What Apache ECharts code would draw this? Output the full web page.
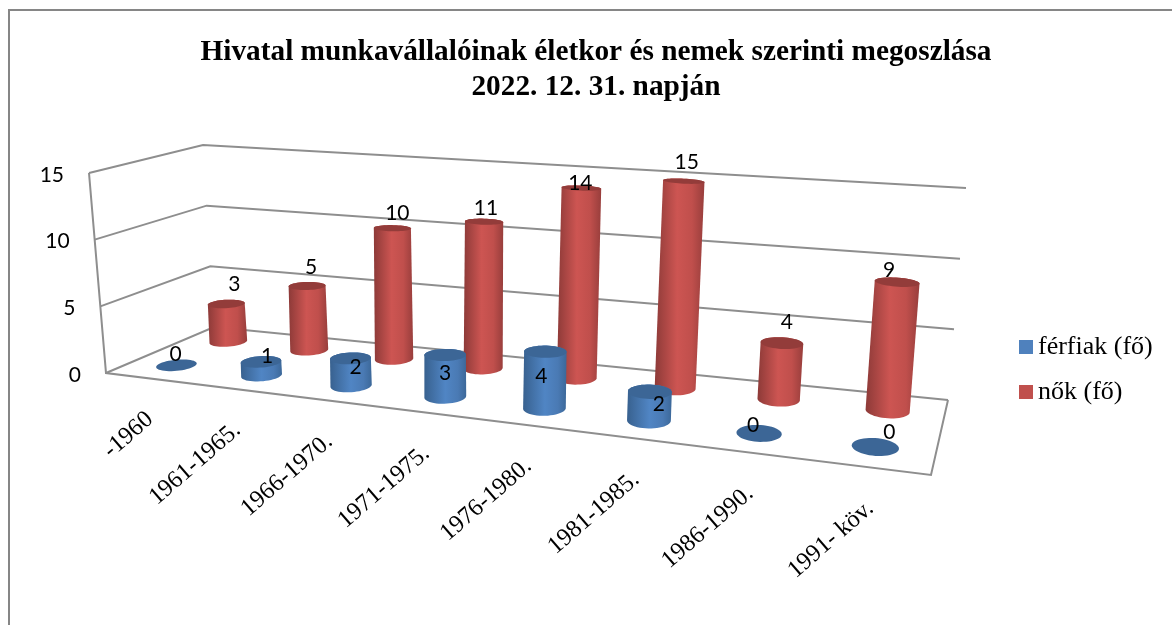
<!DOCTYPE html>
<html>
<head>
<meta charset="utf-8">
<title>Hivatal munkavállalói</title>
<style>
html, body { margin: 0; padding: 0; background: #fff; }
#chart { width: 1172px; height: 625px; }
</style>
<script src="https://cdn.jsdelivr.net/npm/echarts@6/dist/echarts.min.js"></script>
</head>
<body>
<div id="chart"></div>
<script>
// adatok
const categories = ['-1960', '1961-1965.', '1966-1970.', '1971-1975.', '1976-1980.', '1981-1985.', '1986-1990.', '1991- köv.']
const ferfiak = [0, 1, 2, 3, 4, 2, 0, 0]
const nok = [3, 5, 10, 11, 14, 15, 4, 9]
const valueTicks = [0, 5, 10, 15]

// felirat eltolasok az oszlop tetejehez kepest (px)
const ferfiakLabelShift = [[-1, -11], [6, -5], [5, 9], [0, 18], [-4, 25], [9, 13], [-6, -8], [14, -15]]
const nokLabelShift = [[8, -20], [4, -19], [5, -15], [2, -13], [-1, -5], [3, -19], [5, -21], [-8, -12]]

// a 3D doboz sarkai a kepen: elol-bal, elol-jobb, hatul-jobb, hatul-bal
const floorBox = [[106, 373], [931, 475], [948, 400], [214, 327]]
const ceilBox = [[89, 173], [947, 247], [966, 188], [203, 145]]

const lineColor = '#8e8e8e'
const serif = '"Liberation Serif"'

function makeHomography (c) {
  let [p00, p10, p11, p01] = c
  let dx1 = p10[0] - p11[0]
  let dx2 = p01[0] - p11[0]
  let sx = p00[0] - p10[0] + p11[0] - p01[0]
  let dy1 = p10[1] - p11[1]
  let dy2 = p01[1] - p11[1]
  let sy = p00[1] - p10[1] + p11[1] - p01[1]
  let den = dx1 * dy2 - dx2 * dy1
  let g = (sx * dy2 - dx2 * sy) / den
  let h = (dx1 * sy - sx * dy1) / den
  let a = p10[0] - p00[0] + g * p10[0]
  let b = p01[0] - p00[0] + h * p01[0]
  let d = p10[1] - p00[1] + g * p10[1]
  let e = p01[1] - p00[1] + h * p01[1]
  return function (u, w) {
    let q = g * u + h * w + 1
    return [(a * u + b * w + p00[0]) / q, (d * u + e * w + p00[1]) / q]
  }
}

const floorMap = makeHomography(floorBox)

// a fuggoleges irany a negy sarok kozott linearisan valtozik
function riseAt (u, w, axis) {
  let r = floorBox.map((p, i) => ceilBox[i][axis] - p[axis])
  return (r[0] * (1 - u) + r[1] * u) * (1 - w) + (r[3] * (1 - u) + r[2] * u) * w
}

// a rejtett grid koordinatait (api.coord) vetiti a dobozra, depth: 0 elol, 1 hatul
function project (pt, rect, depth) {
  let u = (pt[0] - rect.x) / rect.width
  // az eredeti kepen a kategoriak kicsit egyenletesebben oszlanak el
  u = u + 0.088 * (1 - 0.25 * depth) * u * (1 - u)
  let t = (rect.y + rect.height - pt[1]) / rect.height
  let a = floorMap(u, depth)
  return [a[0] + riseAt(u, depth, 0) * t, a[1] + riseAt(u, depth, 1) * t]
}

function convexHull (points) {
  let pts = points.slice().sort((a, b) => a[0] - b[0] || a[1] - b[1])
  let cross = (o, a, b) => (a[0] - o[0]) * (b[1] - o[1]) - (a[1] - o[1]) * (b[0] - o[0])
  let half = function (list) {
    let out = []
    list.forEach(p => {
      while (out.length > 1 && cross(out[out.length - 2], out[out.length - 1], p) <= 0) out.pop()
      out.push(p)
    })
    out.pop()
    return out
  }
  return half(pts).concat(half(pts.slice().reverse()))
}

function cylinderSeries (name, values, shifts, depth, color, topColor, stops) {
  return {
    name: name,
    type: 'custom',
    coordinateSystem: 'cartesian2d',
    itemStyle: { color: color },
    encode: { x: 0, y: 1 },
    data: values.map((v, i) => [i, v]),
    z: 3,
    renderItem: function (params, api) {
      let rect = params.coordSys
      let i = api.value(0)
      let v = api.value(1)
      let center = api.coord([i, 0])
      let top = api.coord([i, v])
      let ruPx = 0.0245 * rect.width
      let rd = 0.11
      // felul laposabb az ellipszis
      let topRd = rd * (1 - 0.5 * v / 15)
      let bottomRing = []
      let topRing = []
      for (let k = 0; k < 48; k++) {
        let ang = k / 48 * Math.PI * 2
        let dx = Math.cos(ang) * ruPx
        bottomRing.push(project([center[0] + dx, center[1]], rect, depth + Math.sin(ang) * rd))
        topRing.push(project([top[0] + dx, top[1]], rect, depth + Math.sin(ang) * topRd))
      }
      let children = []
      if (v > 0) {
        children.push({
          type: 'polygon',
          shape: { points: convexHull(bottomRing.concat(topRing)) },
          style: { fill: new echarts.graphic.LinearGradient(0, 0, 1, 0, stops) }
        })
      }
      children.push({
        type: 'polygon',
        shape: { points: topRing },
        style: { fill: topColor }
      })
      let tp = project(top, rect, depth)
      children.push({
        type: 'text',
        style: {
          text: String(v),
          x: tp[0] + shifts[i][0],
          y: tp[1] + shifts[i][1],
          align: 'center',
          verticalAlign: 'middle',
          fill: '#000',
          font: '21px Lato'
        }
      })
      return { type: 'group', children: children }
    }
  }
}

function polyline (points) {
  return {
    type: 'polyline',
    shape: { points: points },
    style: { stroke: lineColor, lineWidth: 2, fill: null }
  }
}

// racsvonalak es ertek-feliratok
const frameSeries = {
  name: 'keret',
  type: 'custom',
  coordinateSystem: 'cartesian2d',
  encode: { x: 0, y: 1 },
  data: valueTicks.map(v => [-0.5, v]),
  z: 1,
  silent: true,
  renderItem: function (params, api) {
    let rect = params.coordSys
    let v = api.value(1)
    let left = api.coord([-0.5, v])
    let right = api.coord([categories.length - 0.5, v])
    let frontLeft = project(left, rect, 0)
    let children = [
      polyline([frontLeft, project(left, rect, 1), project(right, rect, 1)]),
      {
        type: 'text',
        style: {
          text: String(v),
          x: frontLeft[0] - 25,
          y: frontLeft[1] + 2,
          align: 'right',
          verticalAlign: 'middle',
          fill: '#000',
          font: '21px Lato'
        }
      }
    ]
    if (v === 0) {
      let topLeft = api.coord([-0.5, valueTicks[valueTicks.length - 1]])
      children.push(polyline([project(topLeft, rect, 0), frontLeft, project(right, rect, 0), project(right, rect, 1)]))
    }
    return { type: 'group', children: children }
  }
}

// kategoria feliratok a padlo elso ele alatt
const categorySeries = {
  name: 'kategoriak',
  type: 'custom',
  coordinateSystem: 'cartesian2d',
  encode: { x: 0, y: 1 },
  data: categories.map((c, i) => [i, 0]),
  z: 2,
  silent: true,
  renderItem: function (params, api) {
    let i = api.value(0)
    let p = project(api.coord([i, 0]), params.coordSys, 0)
    return {
      type: 'text',
      x: p[0] + 2,
      y: p[1] + 38,
      rotation: 41 * Math.PI / 180,
      style: {
        text: categories[i],
        x: 0,
        y: 0,
        align: 'right',
        verticalAlign: 'middle',
        fill: '#000',
        font: '24.5px ' + serif
      }
    }
  }
}

const chart = echarts.init(document.getElementById('chart'))
chart.setOption({
  animation: false,
  backgroundColor: '#fff',
  title: {
    text: 'Hivatal munkavállalóinak életkor és nemek szerinti megoszlása\n2022. 12. 31. napján',
    left: 591,
    top: 30,
    textAlign: 'center',
    textStyle: {
      fontFamily: serif,
      fontWeight: 'bold',
      fontSize: 29.3,
      lineHeight: 35,
      color: '#000'
    }
  },
  legend: {
    data: ['férfiak (fő)', 'nők (fő)'],
    orient: 'vertical',
    left: 1014,
    top: 329,
    icon: 'rect',
    itemWidth: 14,
    itemHeight: 14,
    itemGap: 19,
    selectedMode: false,
    textStyle: { fontFamily: serif, fontSize: 26, color: '#000' }
  },
  grid: { left: 100, top: 100, width: 800, height: 300, show: false },
  xAxis: { type: 'value', min: -0.5, max: categories.length - 0.5, show: false },
  yAxis: { type: 'value', min: 0, max: 15, interval: 5, show: false },
  graphic: [{
    type: 'polyline',
    shape: { points: [[9, 625], [9, 10], [1172, 10]] },
    style: { stroke: '#868686', lineWidth: 2, fill: null },
    silent: true
  }],
  series: [
    frameSeries,
    categorySeries,
    cylinderSeries('nők (fő)', nok, nokLabelShift, 0.75, '#c0504d', '#933c3a', [
      { offset: 0, color: '#8d3a38' },
      { offset: 0.45, color: '#cd5552' },
      { offset: 0.75, color: '#c04f4c' },
      { offset: 1, color: '#983e3c' }
    ]),
    cylinderSeries('férfiak (fő)', ferfiak, ferfiakLabelShift, 0.25, '#4f81bd', '#3c6696', [
      { offset: 0, color: '#38618f' },
      { offset: 0.5, color: '#5085c4' },
      { offset: 0.8, color: '#4a7ab4' },
      { offset: 1, color: '#3c6899' }
    ])
  ]
})
window.addEventListener('resize', function () {
  chart.resize()
})
</script>
</body>
</html>
